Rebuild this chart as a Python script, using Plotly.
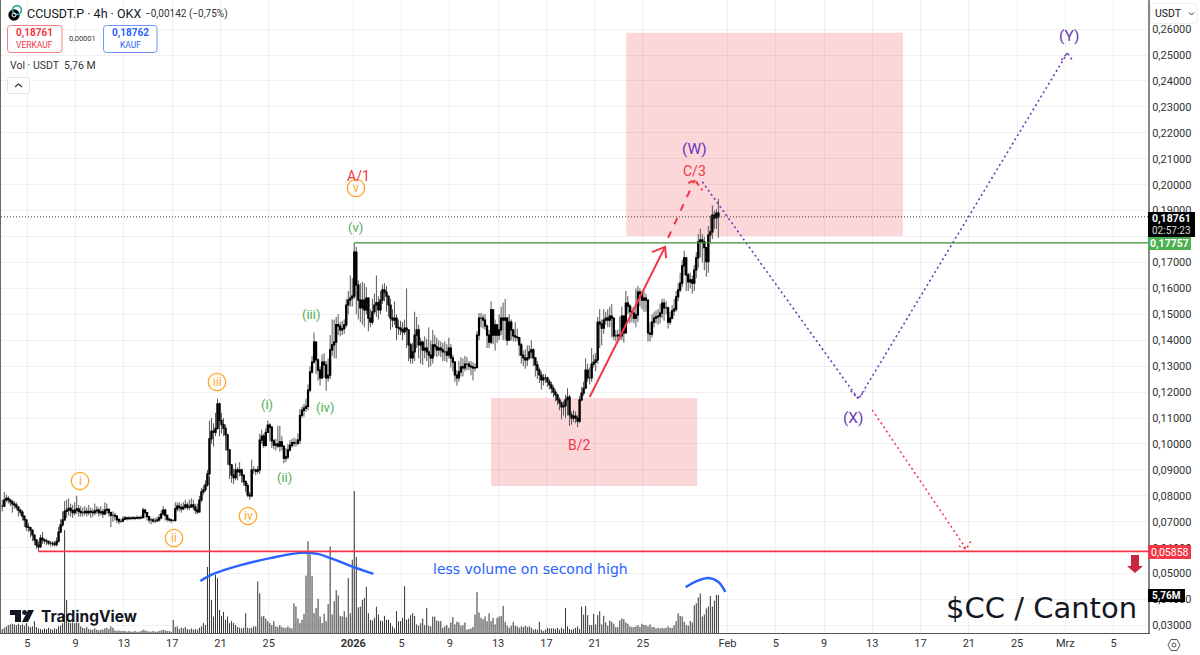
#!/usr/bin/env python3
"""CCUSDT.P 4h chart with wave count drawings, TradingView look"""

import pandas as pd
import plotly.graph_objects as go

WIDTH = 1200
HEIGHT = 655
M_LEFT, M_RIGHT, M_TOP, M_BOTTOM = 1, 52, 0, 22
FONT = "Roboto"

# 4h bars from 2025-12-02 22:00, ten per row
closes = [
    .0760,.0784,.0790,.0784,.0777,.0769,.0765,.0757,.0745,.0737,
    .0722,.0707,.0680,.0678,.0668,.0649,.0630,.0610,.0603,.0637,
    .0630,.0626,.0625,.0618,.0618,.0615,.0612,.0625,.0660,.0688,
    .0707,.0740,.0745,.0752,.0743,.0735,.0745,.0750,.0740,.0735,
    .0735,.0740,.0735,.0740,.0737,.0735,.0742,.0745,.0735,.0738,
    .0730,.0745,.0748,.0735,.0725,.0725,.0722,.0708,.0702,.0702,
    .0710,.0715,.0712,.0714,.0713,.0715,.0714,.0716,.0715,.0716,
    .0745,.0735,.0720,.0707,.0707,.0703,.0703,.0707,.0715,.0730,
    .0745,.0725,.0710,.0707,.0705,.0705,.0750,.0760,.0755,.0750,
    .0757,.0765,.0755,.0757,.0765,.0757,.0745,.0738,.0784,.0815,
    .0823,.0842,.0885,.1020,.1050,.1045,.1060,.1155,.1090,.1075,
    .1060,.1035,.0977,.0920,.0880,.0870,.0900,.0892,.0900,.0880,
    .0855,.0840,.0803,.0800,.0900,.0900,.0895,.0900,.1015,.1030,
    .0995,.1045,.1073,.1065,.1012,.0996,.1000,.0992,.1008,.0992,
    .0945,.0950,.0977,.0995,.1005,.1003,.1003,.1015,.1110,.1130,
    .1138,.1145,.1208,.1278,.1316,.1393,.1324,.1285,.1255,.1316,
    .1305,.1255,.1265,.1363,.1382,.1393,.1460,.1455,.1440,.1445,
    .1459,.1536,.1555,.1563,.1570,.1740,.1613,.1555,.1525,.1555,
    .1517,.1563,.1485,.1470,.1510,.1536,.1545,.1517,.1555,.1594,
    .1586,.1570,.1536,.1485,.1478,.1485,.1450,.1447,.1440,.1432,
    .1447,.1440,.1382,.1332,.1355,.1420,.1440,.1382,.1393,.1362,
    .1370,.1355,.1343,.1332,.1382,.1375,.1363,.1370,.1363,.1355,
    .1355,.1343,.1370,.1332,.1316,.1266,.1255,.1278,.1297,.1293,
    .1308,.1308,.1300,.1297,.1293,.1295,.1420,.1485,.1485,.1478,
    .1455,.1420,.1393,.1517,.1420,.1459,.1420,.1440,.1485,.1478,
    .1485,.1400,.1470,.1440,.1417,.1413,.1410,.1382,.1343,.1332,
    .1324,.1332,.1355,.1363,.1332,.1305,.1285,.1266,.1247,.1255,
    .1255,.1240,.1228,.1215,.1200,.1189,.1170,.1158,.1143,.1147,
    .1170,.1181,.1112,.1100,.1108,.1100,.1088,.1170,.1196,.1215,
    .1285,.1255,.1255,.1308,.1316,.1324,.1470,.1462,.1447,.1478,
    .1485,.1478,.1493,.1485,.1417,.1417,.1420,.1417,.1493,.1428,
    .1543,.1532,.1510,.1505,.1485,.1498,.1586,.1579,.1555,.1563,
    .1555,.1428,.1424,.1470,.1485,.1490,.1493,.1505,.1543,.1525,
    .1525,.1470,.1485,.1513,.1520,.1567,.1594,.1620,.1687,.1718,
    .1652,.1625,.1633,.1620,.1671,.1718,.1780,.1787,.1780,.1757,
    .1703,.1806,.1818,.1883,.1872,.1890,.18761,
]
highs = [
    .0785,.0815,.0805,.0800,.0790,.0785,.0780,.0775,.0760,.0750,
    .0745,.0720,.0700,.0695,.0680,.0665,.0650,.0630,.0625,.0650,
    .0660,.0635,.0635,.0625,.0625,.0625,.0625,.0640,.0680,.0710,
    .0740,.0780,.0785,.0790,.0770,.0765,.0775,.0800,.0765,.0760,
    .0755,.0760,.0755,.0765,.0755,.0750,.0770,.0760,.0755,.0760,
    .0750,.0775,.0770,.0750,.0740,.0740,.0735,.0725,.0715,.0712,
    .0722,.0722,.0720,.0722,.0720,.0722,.0720,.0725,.0722,.0725,
    .0755,.0750,.0730,.0720,.0715,.0715,.0715,.0720,.0730,.0745,
    .0760,.0750,.0725,.0715,.0712,.0710,.0775,.0775,.0775,.0770,
    .0775,.0785,.0775,.0785,.0790,.0785,.0770,.0770,.0800,.0830,
    .0840,.0860,.0900,.1090,.1100,.1080,.1120,.1175,.1160,.1120,
    .1100,.1075,.1040,.0980,.0920,.0905,.0925,.0910,.0930,.0905,
    .0880,.0860,.0850,.0815,.0940,.0915,.0905,.0915,.1040,.1055,
    .1040,.1060,.1090,.1080,.1065,.1020,.1020,.1070,.1070,.1030,
    .0975,.0985,.1000,.1015,.1020,.1025,.1020,.1040,.1135,.1145,
    .1155,.1175,.1230,.1300,.1340,.1430,.1395,.1330,.1300,.1345,
    .1350,.1320,.1330,.1420,.1480,.1480,.1490,.1500,.1470,.1475,
    .1480,.1560,.1590,.1650,.1640,.1775,.1760,.1630,.1620,.1625,
    .1620,.1605,.1565,.1520,.1560,.1580,.1650,.1570,.1590,.1615,
    .1620,.1610,.1570,.1560,.1520,.1550,.1500,.1480,.1475,.1470,
    .1480,.1600,.1440,.1390,.1390,.1510,.1490,.1460,.1410,.1400,
    .1415,.1405,.1450,.1400,.1440,.1420,.1410,.1400,.1395,.1390,
    .1395,.1385,.1410,.1385,.1345,.1320,.1285,.1320,.1335,.1330,
    .1340,.1335,.1320,.1320,.1315,.1310,.1435,.1505,.1505,.1500,
    .1500,.1460,.1440,.1550,.1520,.1480,.1460,.1500,.1530,.1545,
    .1560,.1490,.1500,.1480,.1440,.1470,.1445,.1410,.1390,.1360,
    .1365,.1380,.1380,.1400,.1370,.1335,.1320,.1295,.1280,.1270,
    .1270,.1260,.1250,.1240,.1225,.1210,.1195,.1180,.1165,.1165,
    .1190,.1215,.1190,.1125,.1130,.1125,.1110,.1185,.1220,.1240,
    .1330,.1310,.1295,.1370,.1345,.1350,.1490,.1520,.1480,.1520,
    .1510,.1520,.1530,.1540,.1485,.1440,.1440,.1490,.1530,.1460,
    .1590,.1570,.1540,.1530,.1520,.1600,.1610,.1600,.1590,.1590,
    .1580,.1480,.1470,.1500,.1510,.1515,.1520,.1540,.1560,.1560,
    .1550,.1530,.1510,.1535,.1560,.1590,.1620,.1660,.1710,.1745,
    .1720,.1660,.1660,.1650,.1690,.1740,.1810,.1830,.1810,.1800,
    .1760,.1840,.1880,.1920,.1900,.1905,.1945,
]
lows = [
    .0740,.0760,.0775,.0770,.0760,.0735,.0750,.0745,.0720,.0725,
    .0705,.0680,.0665,.0660,.0640,.0625,.0610,.0595,.0585,.0600,
    .0615,.0615,.0610,.0610,.0605,.0605,.0605,.0605,.0620,.0660,
    .0680,.0705,.0715,.0725,.0720,.0715,.0725,.0730,.0720,.0720,
    .0720,.0725,.0720,.0725,.0715,.0720,.0725,.0730,.0720,.0725,
    .0715,.0725,.0730,.0720,.0680,.0700,.0705,.0695,.0690,.0695,
    .0705,.0708,.0705,.0708,.0706,.0708,.0707,.0710,.0708,.0710,
    .0715,.0715,.0705,.0695,.0690,.0695,.0695,.0700,.0700,.0710,
    .0725,.0705,.0700,.0700,.0695,.0700,.0700,.0740,.0740,.0735,
    .0745,.0750,.0745,.0745,.0755,.0745,.0730,.0730,.0735,.0775,
    .0805,.0815,.0835,.0880,.1000,.0990,.1030,.1055,.1030,.1040,
    .1030,.0975,.0920,.0865,.0850,.0845,.0860,.0860,.0875,.0850,
    .0840,.0815,.0795,.0785,.0795,.0885,.0880,.0885,.0885,.1000,
    .0985,.0990,.1045,.1010,.0985,.0980,.0975,.0985,.0970,.0975,
    .0925,.0930,.0940,.0970,.0985,.0990,.0990,.0995,.1000,.1100,
    .1105,.1125,.1130,.1200,.1270,.1310,.1270,.1245,.1225,.1250,
    .1255,.1205,.1240,.1250,.1340,.1330,.1330,.1420,.1415,.1420,
    .1425,.1450,.1500,.1530,.1530,.1560,.1500,.1480,.1470,.1460,
    .1450,.1500,.1435,.1450,.1460,.1500,.1490,.1480,.1500,.1540,
    .1550,.1510,.1490,.1440,.1450,.1460,.1400,.1420,.1420,.1400,
    .1420,.1370,.1320,.1310,.1310,.1320,.1370,.1330,.1310,.1305,
    .1330,.1320,.1295,.1300,.1310,.1340,.1335,.1340,.1335,.1320,
    .1320,.1315,.1330,.1295,.1280,.1240,.1225,.1240,.1260,.1260,
    .1280,.1285,.1285,.1265,.1245,.1280,.1290,.1400,.1450,.1445,
    .1440,.1370,.1370,.1385,.1385,.1360,.1390,.1400,.1420,.1400,
    .1400,.1380,.1400,.1400,.1395,.1395,.1395,.1340,.1310,.1300,
    .1290,.1300,.1325,.1330,.1300,.1260,.1250,.1235,.1210,.1225,
    .1235,.1220,.1210,.1195,.1180,.1165,.1150,.1130,.1095,.1110,
    .1100,.1110,.1070,.1075,.1085,.1080,.1065,.1080,.1165,.1185,
    .1240,.1240,.1230,.1240,.1295,.1280,.1310,.1370,.1380,.1425,
    .1460,.1450,.1450,.1410,.1400,.1395,.1395,.1400,.1400,.1390,
    .1490,.1500,.1465,.1470,.1465,.1450,.1470,.1530,.1520,.1510,
    .1510,.1395,.1395,.1410,.1450,.1465,.1460,.1465,.1485,.1475,
    .1500,.1445,.1460,.1480,.1495,.1510,.1550,.1585,.1605,.1650,
    .1590,.1590,.1600,.1580,.1590,.1640,.1680,.1720,.1700,.1670,
    .1645,.1660,.1775,.1790,.1830,.1830,.1795,
]
# volume in million USDT
volumes = [
    .6,.8,1.0,1.2,1.3,1.4,1.3,1.2,1.4,1.2,
    1.3,1.1,1.5,1.0,.9,1.0,1.8,.9,.7,.6,
    .5,.7,.6,.8,.6,.5,.7,.6,1.0,1.1,
    1.5,15.6,5.0,1.6,1.5,1.6,1.5,1.6,1.5,1.0,
    .8,.7,.9,.6,.5,.5,.7,.5,.4,.5,
    .5,.7,.8,.6,1.0,.8,.4,.3,.4,.3,
    .3,.3,.2,.3,.2,.2,.3,.2,.2,.3,
    .5,.4,.3,.2,.2,.3,.2,.2,.3,.4,
    .5,.4,.3,.3,.2,2.0,.9,1.0,.6,.8,
    .7,.9,.6,.5,.7,.5,.6,.5,.8,1.0,
    1.5,1.2,10.0,23.8,5.0,2.5,8.8,8.3,3.5,2.6,
    3.2,2.0,2.5,1.5,1.8,1.5,1.2,.9,.8,.7,
    .8,3.0,.8,.7,.8,1.0,1.0,7.8,6.0,2.5,
    2.6,2.2,1.8,1.5,1.2,1.8,1.0,.9,1.2,.9,
    .8,.8,1.0,.8,.7,4.5,4.0,2.2,1.5,2.0,
    2.9,8.7,13.9,11.9,8.6,3.0,3.8,5.2,2.5,1.5,
    2.9,1.8,4.4,13.1,2.8,4.8,6.5,5.7,2.6,2.5,
    3.3,2.4,8.3,3.0,11.1,21.5,11.5,3.9,4.0,5.0,
    5.3,7.0,3.0,2.0,1.9,2.3,4.0,2.8,1.9,1.8,
    2.6,2.0,2.0,1.5,1.0,.7,3.3,1.8,1.8,2.3,
    7.1,2.0,2.2,2.7,3.0,2.6,1.3,1.1,1.5,2.2,
    1.2,3.8,1.1,1.0,2.5,2.5,1.9,1.8,1.8,.8,
    1.0,1.2,.8,1.6,2.4,1.3,1.7,1.6,1.1,1.2,
    1.6,.5,.6,.7,.9,2.8,6.2,3.1,2.3,2.1,
    2.5,1.8,3.0,1.8,2.3,1.3,2.3,2.5,2.6,4.1,
    1.7,1.1,.8,1.1,1.7,1.1,1.0,.8,1.0,.9,
    1.1,.9,1.0,.8,.5,.6,.5,1.7,.5,.3,
    .5,.8,.7,.7,.7,.6,.8,.5,.8,.6,
    3.8,1.0,.6,.5,.6,.8,1.0,.6,4.0,2.8,
    4.1,2.7,1.2,1.2,2.9,1.3,2.7,3.3,1.3,2.6,
    1.6,1.1,1.9,1.7,1.4,.9,.9,1.9,2.2,2.1,
    1.6,1.4,1.0,.9,.9,1.0,1.2,.9,1.4,1.2,
    1.2,1.0,1.3,.9,.9,.7,.8,.7,.8,.7,
    .8,1.0,.8,.8,1.2,1.8,3.0,2.6,2.5,1.7,
    1.2,1.1,1.8,1.6,4.2,4.5,5.4,6.0,2.5,2.8,
    3.7,4.0,5.6,4.0,4.9,5.76,5.76,
]
assert len(closes) == len(highs) == len(lows) == len(volumes) == 357

price_ticks = [.03,.04,.05,.06,.07,.08,.09,.10,.11,.12,.13,.14,.15,.16,.17,.18,.19,.20,.21,.22,.23,.24,.25,.26]
date_ticks = ["2025-12-05","2025-12-09","2025-12-13","2025-12-17","2025-12-21","2025-12-25","2026-01-01",
              "2026-01-05","2026-01-09","2026-01-13","2026-01-17","2026-01-21","2026-01-25","2026-02-01",
              "2026-02-05","2026-02-09","2026-02-13","2026-02-17","2026-02-21","2026-02-25","2026-03-01","2026-03-05"]
date_labels = ["5","9","13","17","21","25","<b>2026</b>","5","9","13","17","21","25","Feb",
               "5","9","13","17","21","25","Mrz","5"]

last_price = .18761
resistance = .17757
support = .05858
last_volume = "5,76M"

RED = "#f23645"
GREEN = "#4caf50"
ORANGE = "#ffa726"
PURPLE = "#673ab7"
BLUE = "#2962ff"
PINK = "rgba(242,54,69,0.2)"
GRID = "rgba(0,0,0,0.055)"

# width of the plotting area in px, for the screen furniture around the chart
plot_w = WIDTH - M_LEFT - M_RIGHT
plot_h = HEIGHT - M_TOP - M_BOTTOM


def px(x):
    return (x - M_LEFT) / plot_w


def py(y):
    return 1 - (y - M_TOP) / plot_h


def label(fig, x, y, text, size, color, anchor="center", family=FONT):
    fig.add_annotation(x=px(x), y=py(y), xref="paper", yref="paper", text=text, showarrow=False,
                       xanchor=anchor, yanchor="middle", font=dict(size=size, color=color, family=family))


def box(fig, x0, y0, x1, y1, fill, line=None, width=1, radius=0):
    r = radius
    x = lambda v: f"{px(v):.5f}"
    y = lambda v: f"{py(v):.5f}"
    path = (f"M {x(x0 + r)} {y(y0)} L {x(x1 - r)} {y(y0)} Q {x(x1)} {y(y0)} {x(x1)} {y(y0 + r)} "
            f"L {x(x1)} {y(y1 - r)} Q {x(x1)} {y(y1)} {x(x1 - r)} {y(y1)} "
            f"L {x(x0 + r)} {y(y1)} Q {x(x0)} {y(y1)} {x(x0)} {y(y1 - r)} "
            f"L {x(x0)} {y(y0 + r)} Q {x(x0)} {y(y0)} {x(x0 + r)} {y(y0)} Z")
    fig.add_shape(type="path", path=path, xref="paper", yref="paper", fillcolor=fill,
                  line=dict(color=line or fill, width=width if line else 0), layer="above")


def poly(fig, points, fill=None, line=None, width=1, close=True):
    path = "M " + " L ".join(f"{px(a):.5f} {py(b):.5f}" for a, b in points) + (" Z" if close else "")
    fig.add_shape(type="path", path=path, xref="paper", yref="paper", fillcolor=fill if close else None,
                  line=dict(color=line or fill, width=width if line else 0), layer="above")


def ring(fig, cx, cy, r, color, fill="rgba(255,255,255,0)", width=1.3):
    fig.add_shape(type="circle", xref="paper", yref="paper", x0=px(cx - r), x1=px(cx + r),
                  y0=py(cy + r), y1=py(cy - r), line=dict(color=color, width=width),
                  fillcolor=fill, layer="above")


def draw(fig, xs, ys, color, width=1.5, dash=None, spline=False):
    line = dict(color=color, width=width)
    if dash:
        line["dash"] = dash
    if spline:
        line["shape"] = "spline"
    fig.add_trace(go.Scatter(x=xs, y=ys, mode="lines", line=line, yaxis="y2",
                             showlegend=False, hoverinfo="skip"))


times = pd.date_range("2025-12-02 22:00", periods=len(closes), freq="4h")
opens = [closes[0]] + closes[:-1]
body_top = [max(o, c) for o, c in zip(opens, closes)]
body_bottom = [min(o, c) for o, c in zip(opens, closes)]

fig = go.Figure()

# Volume sits on the primary axis so that the price stuff is painted over it.
# Plain 1px stems instead of go.Bar, the bars melt together at 2px spacing
vol_x = []
vol_y = []
for t, v in zip(times, volumes):
    vol_x += [t, t, None]
    vol_y += [0, v, None]
fig.add_trace(go.Scatter(x=vol_x, y=vol_y, mode="lines", line=dict(color="#333333", width=1),
                         showlegend=False, name="Vol", hoverinfo="skip"))

# wicks in grey first, then black bodies on top
fig.add_trace(go.Candlestick(x=times, open=opens, high=highs, low=lows, close=closes, yaxis="y2",
                             whiskerwidth=0, showlegend=False,
                             increasing=dict(line=dict(color="#585858", width=1), fillcolor="#585858"),
                             decreasing=dict(line=dict(color="#585858", width=1), fillcolor="#585858")))
fig.add_trace(go.Candlestick(x=times, open=opens, high=body_top, low=body_bottom, close=closes, yaxis="y2",
                             whiskerwidth=0, showlegend=False,
                             increasing=dict(line=dict(color="#000000", width=1.2), fillcolor="#000000"),
                             decreasing=dict(line=dict(color="#000000", width=1.2), fillcolor="#000000")))

# target zones
fig.add_shape(type="rect", xref="x", yref="y2", x0="2026-01-23 15:00", x1="2026-02-15 13:00", y0=.1802, y1=.2586,
              fillcolor=PINK, line=dict(width=0), layer="below")
fig.add_shape(type="rect", xref="x", yref="y2", x0="2026-01-12 10:00", x1="2026-01-29 12:00", y0=.0838, y1=.1177,
              fillcolor=PINK, line=dict(width=0), layer="below")

# last price + the two horizontal levels
fig.add_shape(type="line", xref="paper", yref="y2", x0=0, x1=1, y0=last_price, y1=last_price,
              line=dict(color="#444444", width=1, dash="1px,2px"), layer="above")
fig.add_shape(type="line", xref="x", yref="y2", x0="2026-01-01 02:00", x1="2026-03-07 20:15", y0=resistance, y1=resistance,
              line=dict(color="#388e3c", width=1.3), layer="above")
fig.add_shape(type="line", xref="x", yref="y2", x0="2025-12-05 22:00", x1="2026-03-07 20:15", y0=support, y1=support,
              line=dict(color=RED, width=1.6), layer="above")

# wave drawings
draw(fig, ["2026-01-20 14:00", "2026-01-26 20:00"], [.1181, .1760], RED, 2)
draw(fig, ["2026-01-25 18:00", "2026-01-26 20:00", "2026-01-26 22:00"], [.1740, .1760, .1717], RED, 2)
draw(fig, ["2026-01-27 02:00", "2026-01-29 07:00"], [.1795, .2018], RED, 2, "7px,8px")
draw(fig, ["2026-01-28 18:00", "2026-01-29 07:00", "2026-01-29 22:00"], [.2006, .2018, .1979], RED, 2, "5px,4px")
draw(fig, ["2026-01-29 22:00", "2026-02-11 19:00"], [.2011, .1177], PURPLE, 1.6, "2px,3px")
draw(fig, ["2026-02-11 05:00", "2026-02-11 19:00", "2026-02-12 10:00"], [.1205, .1177, .1205], PURPLE, 1.6, "2px,3px")
draw(fig, ["2026-02-11 23:00", "2026-03-01 04:00"], [.1181, .2508], PURPLE, 1.6, "2px,3px")
draw(fig, ["2026-02-28 16:00", "2026-03-01 04:00", "2026-03-01 16:00"], [.2481, .2508, .2473], PURPLE, 1.6, "2px,3px")
draw(fig, ["2026-02-13 00:00", "2026-02-20 19:00"], [.1131, .0595], RED, 1.5, "2px,3px")
draw(fig, ["2026-02-20 04:00", "2026-02-20 19:00", "2026-02-21 04:00"], [.0607, .0595, .0626], RED, 1.5, "2px,3px")

# hand drawn volume curves
draw(fig, ["2025-12-19 08:00", "2025-12-20 10:00", "2025-12-22 16:00", "2025-12-25 03:00", "2025-12-27 15:00",
           "2025-12-29 01:00", "2025-12-30 03:00", "2025-12-31 18:00", "2026-01-02 16:00"],
     [.0472, .0499, .0533, .0560, .0580, .0576, .0560, .0530, .0499], BLUE, 2.4, spline=True)
draw(fig, ["2026-01-28 13:00", "2026-01-29 12:00", "2026-01-30 10:00", "2026-01-31 06:00", "2026-01-31 20:00"],
     [.0448, .0472, .0483, .0468, .0429], BLUE, 2.4, spline=True)

fig.update_layout(
    width=WIDTH, height=HEIGHT, autosize=False,
    margin=dict(l=M_LEFT, r=M_RIGHT, t=M_TOP, b=M_BOTTOM, pad=0),
    paper_bgcolor="#ffffff", plot_bgcolor="#ffffff",
    font=dict(family=FONT, color="#333333"),
    showlegend=False, dragmode=False,
    xaxis=dict(type="date", range=["2025-12-02 19:30", "2026-03-07 20:15"], rangeslider=dict(visible=False),
               tickmode="array", tickvals=date_ticks, ticktext=date_labels, tickfont=dict(size=11, color="#333333"),
               ticks="", ticklen=0, showgrid=True, gridcolor=GRID, gridwidth=1, zeroline=False,
               showline=True, linecolor="#555555", linewidth=1),
    yaxis=dict(range=[0, plot_h / 6.6], showticklabels=False, ticks="", showgrid=False, zeroline=False,
               showline=True, linecolor="#666666", linewidth=2, fixedrange=True),
    yaxis2=dict(overlaying="y", side="right", range=[.02711, .27122],
                tickmode="array", tickvals=price_ticks, ticktext=[f"{v:.5f}".replace(".", ",") for v in price_ticks],
                tickfont=dict(size=11, color="#333333"), ticks="", ticklen=0, showgrid=True, gridcolor=GRID,
                gridwidth=1, zeroline=False, showline=True, linecolor="#888888", linewidth=2),
)

# wave labels, orange circled ones
for (cx, cy, txt) in [(80, 481, "i"), (174, 538, "ii"), (217, 382, "iii"), (248, 516, "iv"), (356, 188, "v")]:
    ring(fig, cx, cy, 8.7, ORANGE)
    label(fig, cx, cy, txt, 12, ORANGE)
for (cx, cy, txt) in [(267, 404, "(i)"), (284, 478, "(ii)"), (311, 315, "(iii)"), (325, 407, "(iv)"), (355, 227, "(v)")]:
    label(fig, cx, cy, txt, 13, GREEN)
for (cx, cy, txt) in [(358, 176, "A/1"), (579, 445, "B/2"), (694, 171, "C/3")]:
    label(fig, cx, cy, txt, 14, RED)
for (cx, cy, txt) in [(694, 149, "(W)"), (853, 418, "(X)"), (1069, 36, "(Y)")]:
    label(fig, cx, cy, txt, 15.5, PURPLE)

label(fig, 530, 569, "less volume on second high", 14, BLUE, family="DejaVu Sans")
label(fig, 1139, 608, "$CC / Canton", 29, "#131722", anchor="right", family="DejaVu Sans")

# header
ring(fig, 14, 15, 5, "#000000", fill="#000000")
ring(fig, 17, 10, 4.4, "#26a69a", width=1.6)
ring(fig, 14, 15, 2, "#ffffff", fill="rgba(255,255,255,0)", width=1)
label(fig, 25, 14, "CCUSDT.P · 4h · OKX", 12.5, "#131722", anchor="left")
label(fig, 143, 14, "−0,00142 (−0,75%)", 10, "#333333", anchor="left")
box(fig, 7.5, 25.5, 62, 52.5, "#ffffff", "#f77c80", 1, 3)
label(fig, 34.5, 33, "<b>0,18761</b>", 10, RED)
label(fig, 34.5, 45, "VERKAUF", 8.5, RED)
label(fig, 82, 39, "0,00001", 7.5, "#333333")
box(fig, 103.5, 25.5, 157, 52.5, "#ffffff", "#6f95ff", 1, 3)
label(fig, 130, 33, "<b>0,18762</b>", 10, BLUE)
label(fig, 130, 45, "KAUF", 8.5, BLUE)
label(fig, 8, 66, "Vol · USDT  5,76 M", 10.5, "#333333", anchor="left")
box(fig, 7.5, 77.5, 29.5, 93.5, "#ffffff", "#e0e3eb", 1, 2)
poly(fig, [(15, 87), (18.5, 84), (22, 87)], line="#333333", width=1.2, close=False)

# TradingView watermark
poly(fig, [(10, 610), (21, 610), (21, 622), (15, 622), (15, 615), (10, 615)], fill="#131722")
ring(fig, 24.5, 612.5, 2.4, "#131722", fill="#131722", width=0)
poly(fig, [(28, 610), (34, 610), (28, 622), (22, 622)], fill="#131722")
label(fig, 39, 616, "<b>TradingView</b>", 15.5, "#131722", anchor="left", family="Inter")

# down arrow at the support line
poly(fig, [(1131, 555), (1139, 555), (1139, 566), (1143, 566), (1135, 573), (1127, 566), (1131, 566)], fill="#c9263f")

# price axis labels
box(fig, 1148, 212, 1195, 237, "#000000")
label(fig, 1171, 218, "<b>0,18761</b>", 10.5, "#ffffff")
label(fig, 1171, 230, "02:57:23", 10, "#dddddd")
box(fig, 1148, 237, 1191, 250, "#4caf50")
label(fig, 1169.5, 243.5, "<b>0,17757</b>", 10.5, "#ffffff")
box(fig, 1148, 545, 1191, 559, RED)
label(fig, 1169.5, 552, "0,05858", 10.5, "#ffffff")
box(fig, 1148, 589, 1185, 602, "#000000")
label(fig, 1166.5, 595.5, f"<b>{last_volume}</b>", 10, "#ffffff")
box(fig, 1150.5, 3.5, 1197, 23.5, "#ffffff", "#eceef2", 1, 3)
label(fig, 1153, 13.5, "USDT", 10.5, "#131722", anchor="left")
poly(fig, [(1189, 12.5), (1191.5, 15), (1194, 12.5)], line="#333333", width=1, close=False)

# settings icon under the price axis
poly(fig, [(1168, 645), (1171, 639.5), (1177, 639.5), (1180, 645), (1177, 650.5), (1171, 650.5)], line="#555555", width=1)
ring(fig, 1174, 645, 2, "#555555", width=1)

# the default page margin would push the chart away from the corner
fig.write_html("out.html", config=dict(displayModeBar=False),
               post_script="document.body.style.margin='0';document.body.style.overflow='hidden';")
